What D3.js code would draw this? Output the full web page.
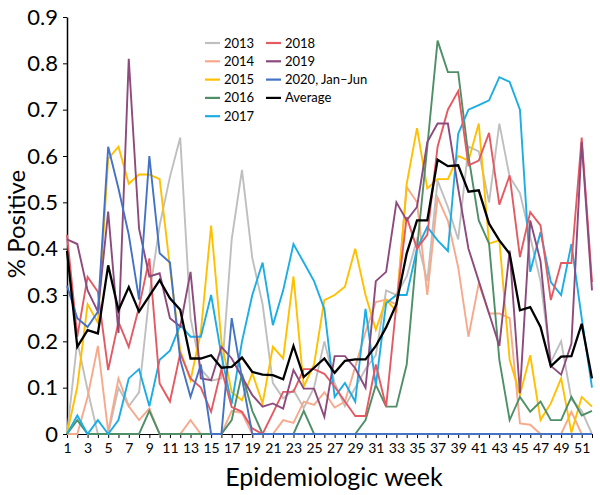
<!DOCTYPE html>
<html><head><meta charset="utf-8">
<script src="https://cdn.jsdelivr.net/npm/d3@7"></script>
<style>body{margin:0;background:#fff}svg{display:block}text{font-family:Lato,"Open Sans",sans-serif;fill:#000}</style>
</head><body><svg id="c" width="600" height="495"></svg>
<script>
const weeks = d3.range(1, 53);
const yTicks = [0, 0.1, 0.2, 0.3, 0.4, 0.5, 0.6, 0.7, 0.8, 0.9];
const seriesNames = ["2013", "2014", "2015", "2016", "2017", "2018", "2019", "2020, Jan\u2013Jun", "Average"];
const seriesColors = ["#bfbfbf", "#f7a98c", "#ffc000", "#4f8f68", "#1cade4", "#e45a62", "#8c4a7d", "#4472c4", "#000000"];

const y2013 = [0,0.2,0.095,0,0,0.1,0.06,0.09,0.3,0.45,0.555,0.64,0.25,0.14,0.115,0.12,0.42,0.57,0.38,0.28,0.11,0.077,0.095,0.056,0.1,0.2,0.11,0.06,0.1,0.14,0.17,0.31,0.3,0.34,0.42,0.33,0.547,0.49,0.42,0.62,0.61,0.5,0.67,0.555,0.52,0.425,0.33,0.155,0.2,0.075,0.05,0];
const y2014 = [0,0,0.08,0.19,0.005,0.12,0.06,0.03,0.055,0,0,0,0.03,0,0,0,0.05,0.045,0,0,0,0.03,0.024,0.07,0.063,0.09,0.057,0.07,0.145,0.22,0.285,0.29,0.28,0.533,0.5,0.3,0.51,0.46,0.36,0.21,0.325,0.26,0.26,0.25,0.023,0.02,0,0,0,0.048,0,0];
const y2015 = [0,0.102,0.28,0.24,0.594,0.62,0.54,0.56,0.56,0.55,0.36,0.18,0.116,0.22,0.45,0.2,0.09,0.073,0.131,0.066,0.188,0.163,0.34,0.102,0.15,0.289,0.3,0.318,0.4,0.3,0.225,0.29,0.265,0.54,0.66,0.53,0.55,0.55,0.6,0.59,0.67,0.411,0.418,0.16,0.085,0.17,0.03,0.066,0.12,0.003,0.08,0.059];
const y2016 = [0,0.03,0,0,0,0,0,0,0.05,0,0,0,0,0,0,0,0.03,0.13,0.05,0,0,0,0,0.05,0,0,0,0,0,0.03,0.106,0.059,0.059,0.15,0.4,0.62,0.849,0.781,0.781,0.6,0.461,0.411,0.16,0.03,0.08,0.048,0.07,0.03,0.03,0.08,0.04,0.05];
const y2017 = [0,0.04,0,0.03,0,0.03,0.12,0.14,0.06,0.16,0.18,0.235,0.21,0.21,0.3,0.17,0.065,0.2,0.3,0.37,0.235,0.31,0.41,0.37,0.33,0.27,0.08,0.11,0.07,0.27,0.105,0.282,0.3,0.3,0.4,0.447,0.418,0.395,0.648,0.7,0.71,0.72,0.77,0.76,0.7,0.35,0.436,0.328,0.3,0.41,0.25,0.1];
const y2018 = [0.43,0.21,0.339,0.307,0.138,0.242,0.188,0.274,0.379,0.109,0.07,0.174,0.12,0.1,0.048,0.14,0.058,0.048,0.012,0,0.045,0.091,0.091,0.14,0.14,0.13,0.102,0.07,0.039,0.039,0.15,0.059,0.28,0.468,0.4,0.43,0.62,0.7,0.74,0.58,0.59,0.65,0.495,0.558,0.382,0.479,0.45,0.289,0.369,0.369,0.64,0.328];
const y2019 = [0.42,0.41,0.31,0.264,0.48,0.218,0.81,0.443,0.34,0.347,0.25,0.232,0.35,0.12,0.116,0.188,0.163,0.123,0.084,0.059,0.066,0.055,0.138,0.098,0.098,0.037,0.168,0.168,0.142,0.1,0.33,0.35,0.5,0.461,0.49,0.63,0.67,0.67,0.53,0.4,0.33,0.26,0.19,0.396,0.088,0.461,0.373,0.147,0.128,0.195,0.63,0.31];
const y2020 = [0.32,0.25,0.231,0.264,0.62,0.53,0.43,0.29,0.6,0.39,0.37,0.16,0.08,0.15,0,0,0.25,0.12,0,0,0,0,0,0,0,0,0,0,0,0,0,0,0,0,0,0,0,0,0,0,0,0,0,0,0,0,0,0,0,0,0,0];
const yAvg = [0.395,0.188,0.224,0.217,0.364,0.267,0.317,0.264,0.298,0.332,0.293,0.268,0.163,0.163,0.17,0.143,0.145,0.165,0.134,0.128,0.127,0.118,0.19,0.123,0.143,0.163,0.132,0.158,0.161,0.161,0.19,0.23,0.28,0.39,0.461,0.461,0.592,0.578,0.58,0.523,0.526,0.454,0.418,0.389,0.267,0.274,0.231,0.146,0.167,0.168,0.238,0.12];

const seriesValues = [y2013, y2014, y2015, y2016, y2017, y2018, y2019, y2020, yAvg];

const svg = d3.select("#c");
const x = d3.scaleLinear().domain([1, 52]).range([67, 592]);
const y = d3.scaleLinear().domain([0, 0.9]).range([434, 17]);

const line = d3.line().x((d, i) => x(weeks[i])).y(d => y(d));

// axes first
const yAxis = d3.axisLeft(y).tickValues(yTicks).tickSize(4).tickSizeOuter(0).tickPadding(5)
  .tickFormat(d => d === 0 ? "0" : d.toFixed(1));
const gy = svg.append("g").attr("transform", `translate(${x(1)},0)`).call(yAxis);
gy.selectAll("text").style("font-size", "22px");
gy.select(".domain").attr("stroke-width", 1.5);

const xAxis = d3.axisBottom(x).tickValues(weeks).tickSize(4).tickSizeOuter(0).tickPadding(5)
  .tickFormat(d => d % 2 === 1 ? String(d) : "");
const gx = svg.append("g").attr("transform", `translate(0,${y(0)})`).call(xAxis);
gx.selectAll("text").style("font-size", "14px");
gx.select(".domain").attr("stroke-width", 1.2);

// lines
seriesValues.forEach((vals, k) => {
  svg.append("path").datum(vals)
    .attr("fill", "none")
    .attr("stroke", seriesColors[k])
    .attr("stroke-width", k === 8 ? 2.3 : 1.9)
    .attr("d", line);
});

// titles
svg.append("text").attr("x", 334).attr("y", 486).attr("text-anchor", "middle")
  .style("font-size", "25px").text("Epidemiologic week");
svg.append("text").attr("transform", "translate(25,224) rotate(-90)").attr("text-anchor", "middle")
  .style("font-size", "24px").text("% Positive");

// legend
const legCols = [[0,1,2,3,4],[5,6,7,8]];
const colX = [205, 266];
legCols.forEach((col, ci) => {
  col.forEach((k, ri) => {
    const yy = 43 + ri * 18.3;
    const g = svg.append("g");
    g.append("line").attr("x1", colX[ci]).attr("x2", colX[ci] + 15).attr("y1", yy).attr("y2", yy)
      .attr("stroke", seriesColors[k]).attr("stroke-width", 2.2);
    g.append("text").attr("x", colX[ci] + 19).attr("y", yy).attr("dy", "0.35em")
      .style("font-size", "13px").text(seriesNames[k]);
  });
});
</script></body></html>
